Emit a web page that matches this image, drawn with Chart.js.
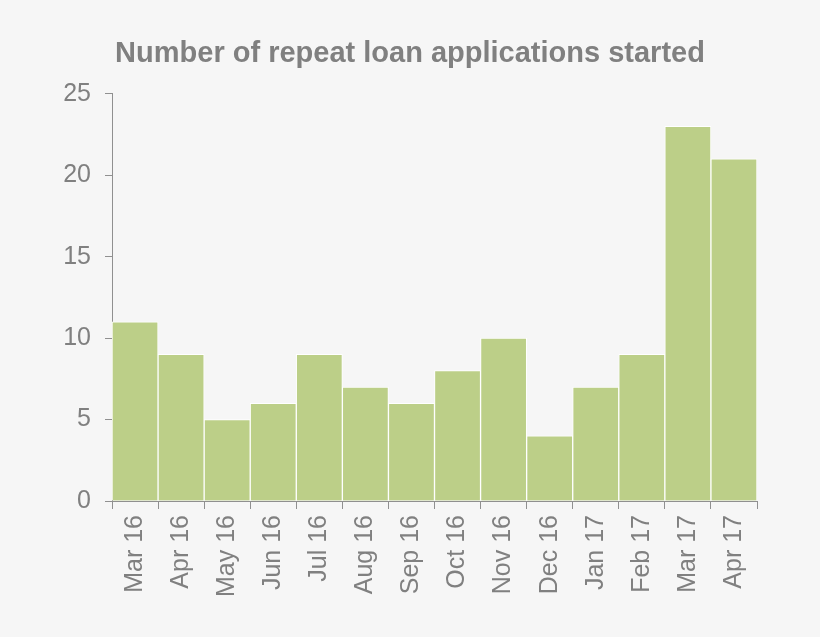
<!DOCTYPE html>
<html>
<head>
<meta charset="utf-8">
<script src="https://cdn.jsdelivr.net/npm/chart.js@4"></script>
<style>
  html, body { margin: 0; padding: 0; background: #f6f6f6; }
  #wrap { width: 820px; height: 637px; }
</style>
</head>
<body>
<div id="wrap"><canvas id="myChart"></canvas></div>
<script>
var months = ['Mar 16', 'Apr 16', 'May 16', 'Jun 16', 'Jul 16', 'Aug 16', 'Sep 16',
              'Oct 16', 'Nov 16', 'Dec 16', 'Jan 17', 'Feb 17', 'Mar 17', 'Apr 17'];
var applications = [11, 9, 5, 6, 9, 7, 6, 8, 10, 4, 7, 9, 23, 21];
var yTicks = [0, 5, 10, 15, 20, 25];

var grey = '#808080';
var ctx = document.getElementById('myChart').getContext('2d');

Chart.defaults.font.family = '"Liberation Sans", Arial, sans-serif';
Chart.defaults.color = grey;

var myChart = new Chart(ctx, {
    type: 'bar',
    data: {
        labels: months,
        datasets: [{
            label: 'Repeat loan applications',
            data: applications,
            backgroundColor: '#bccf88',
            borderColor: '#ffffff',
            borderWidth: 1,
            barPercentage: 1,
            categoryPercentage: 1
        }]
    },
    options: {
        responsive: true,
        maintainAspectRatio: false,
        animation: false,
        layout: {
            padding: 0
        },
        plugins: {
            legend: { display: false },
            tooltip: { enabled: false },
            title: {
                display: true,
                text: 'Number of repeat loan applications started',
                color: grey,
                font: { size: 29, weight: 'bold' },
                padding: { top: 37, bottom: 22 }
            }
        },
        scales: {
            x: {
                grid: { drawOnChartArea: false, color: '#909090', tickLength: 8 },
                border: { color: '#909090' },
                ticks: {
                    minRotation: 90,
                    maxRotation: 90,
                    padding: 6,
                    font: { size: 25 }
                },
                afterFit: function (scale) { scale.height = 136; }
            },
            y: {
                min: 0,
                max: 25,
                afterBuildTicks: function (scale) {
                    scale.ticks = yTicks.map(function (v) { return { value: v }; });
                },
                grid: { drawOnChartArea: false, color: '#909090', tickLength: 7 },
                border: { color: '#909090' },
                ticks: {
                    padding: 14,
                    font: { size: 25 }
                },
                afterFit: function (scale) { scale.width = 112; }
            },
            // empty right-hand space so the title stays centred on the page
            spacer: {
                type: 'linear',
                position: 'right',
                grid: { display: false },
                border: { display: false },
                ticks: { display: false },
                afterFit: function (scale) { scale.width = 63; }
            }
        }
    }
});
</script>
</body>
</html>
